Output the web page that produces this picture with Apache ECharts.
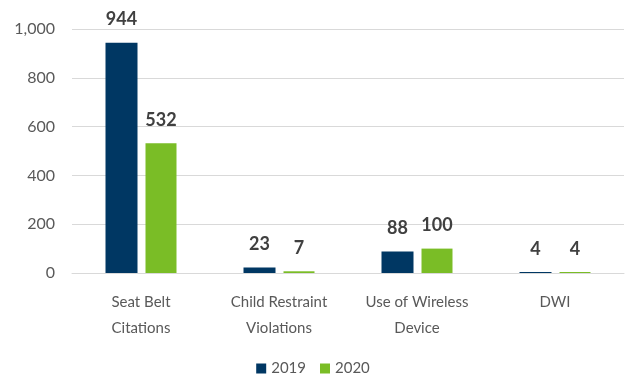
<!DOCTYPE html>
<html>
<head>
<meta charset="utf-8">
<script src="https://cdn.jsdelivr.net/npm/echarts@6/dist/echarts.min.js"></script>
<style>
  html, body { margin: 0; padding: 0; background: #fff; }
  #main { width: 626px; height: 383px; }
</style>
</head>
<body>
<div id="main"></div>
<script>
// data
var categories = ['Seat Belt\nCitations', 'Child Restraint\nViolations', 'Use of Wireless\nDevice', 'DWI']
var values2019 = [944, 23, 88, 4]
var values2020 = [532, 7, 100, 4]
var yTicks = [0, 200, 400, 600, 800, 1000]

var chart = echarts.init(document.getElementById('main'))
var font = 'Lato, "Open Sans", sans-serif'

// bold value labels above the bars
var labelStyle = {
  show: true,
  position: 'top',
  distance: 14,
  color: '#404040',
  fontSize: 18,
  fontWeight: 'bold',
  fontFamily: font
}

chart.setOption({
  animation: false,
  textStyle: { fontFamily: font },
  grid: { left: 72, right: 2, top: 29, bottom: 110 },
  legend: {
    bottom: 2,
    left: 'center',
    itemWidth: 10,
    itemHeight: 10,
    itemGap: 14,
    icon: 'rect',
    textStyle: { color: '#595959', fontSize: 15, fontFamily: font },
    data: ['2019', '2020']
  },
  xAxis: {
    type: 'category',
    data: categories,
    axisLine: { lineStyle: { color: '#d9d9d9', width: 1 } },
    axisTick: { show: false },
    axisLabel: { color: '#595959', fontSize: 15, lineHeight: 26, margin: 16, interval: 0 }
  },
  yAxis: {
    type: 'value',
    min: yTicks[0],
    max: yTicks[yTicks.length - 1],
    interval: 200,
    axisLine: { show: false },
    axisTick: { show: false },
    splitLine: { lineStyle: { color: '#d9d9d9', width: 1 } },
    axisLabel: {
      color: '#595959',
      fontSize: 16,
      margin: 17,
      formatter: function (v) { return v.toLocaleString('en-US') }
    }
  },
  series: [
    {
      name: '2019',
      type: 'bar',
      data: values2019,
      barWidth: 32,
      barGap: '25%',
      itemStyle: { color: '#003763' },
      label: labelStyle
    },
    {
      name: '2020',
      type: 'bar',
      data: values2020,
      barWidth: 31,
      itemStyle: { color: '#7abd26' },
      label: labelStyle
    }
  ]
})
</script>
</body>
</html>
